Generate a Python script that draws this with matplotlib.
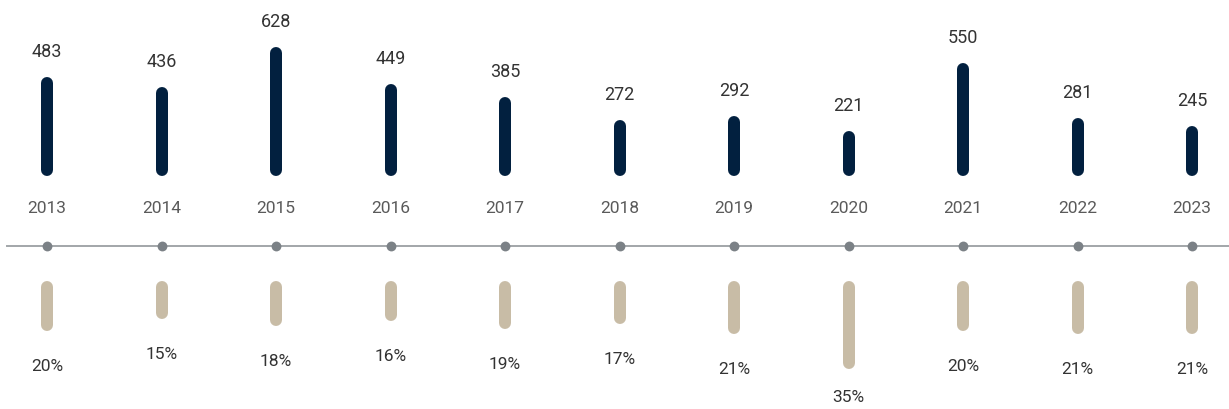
import numpy as np
import matplotlib
matplotlib.use("Agg")
import matplotlib.pyplot as plt

years = ["2013", "2014", "2015", "2016", "2017", "2018", "2019", "2020", "2021", "2022", "2023"]
counts = [483, 436, 628, 449, 385, 272, 292, 221, 550, 281, 245]
shares = [20, 15, 18, 16, 19, 17, 21, 35, 20, 21, 21]

navy = "#02203f"
beige = "#c8bca6"
dot_grey = "#7b8186"
line_grey = "#a2a6a9"

plt.rcParams["font.family"] = ["Roboto", "DejaVu Sans"]

W, H = 1229, 410
fig = plt.figure(figsize=(W / 100, H / 100), dpi=100)
ax = fig.add_axes([0, 0, 1, 1])
# pixel-like coordinates: x by year index, y downwards
step = 114.5
x0 = 47
ax.set_xlim(-x0 / step, (W - x0) / step)
ax.set_ylim(H, 0)
ax.axis("off")

x = np.arange(len(years))
lw = 12 * 72 / 100  # 12 px wide bars
cap = 6

# top bars: counts
base_top = 177
k_top = 0.205
tops = base_top - np.array(counts) * k_top
ax.vlines(x, base_top - cap, tops + cap, color=navy, lw=lw, capstyle="round")
for xi, t, v in zip(x, tops, counts):
    ax.text(xi, t - 26, str(v), ha="center", va="center", fontsize=13,
            color="#333333")

# year labels
for xi, y in zip(x, years):
    ax.text(xi, 209, y, ha="center", va="center", fontsize=12.5,
            color="#5a5a5a")

# baseline with dots
ax.axhline(246.5, xmin=7 / W, xmax=1, color=line_grey, lw=1.4)
ax.scatter(x, [246.5] * len(x), s=50, color=dot_grey, zorder=3, linewidths=0)

# bottom bars: shares
base_bot = 282
k_bot = 2.5
bottoms = base_bot + np.array(shares) * k_bot
ax.vlines(x, base_bot + cap, bottoms - cap, color=beige, lw=lw, capstyle="round")
for xi, b, s in zip(x, bottoms, shares):
    ax.text(xi, min(b + 35, 398), f"{s}%", ha="center", va="center",
            fontsize=12.5, color="#333333")

fig.savefig("out.png", dpi=100)
